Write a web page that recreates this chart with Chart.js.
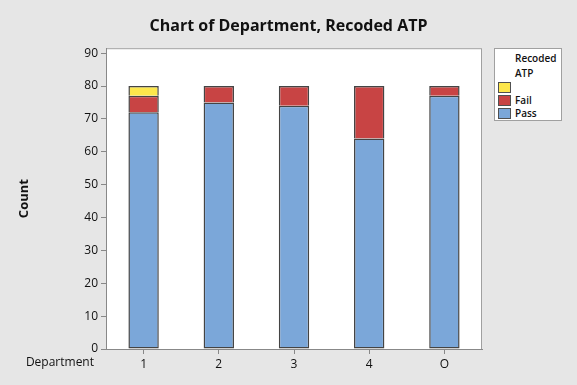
<!DOCTYPE html>
<html>
<head>
<meta charset="utf-8">
<script src="https://cdn.jsdelivr.net/npm/chart.js@4"></script>
<style>
  html, body { margin: 0; padding: 0; background: #e6e6e6; }
  #wrap { position: relative; width: 577px; height: 385px; }
  #legend {
    position: absolute; left: 494px; top: 48px; width: 66px; height: 71px;
    background: #fff; border: 1px solid #a0a0a0;
    font-family: 'Open Sans', sans-serif; font-size: 10px; font-weight: 600; color: #111;
  }
  #legend .t { position: absolute; left: 20px; line-height: 12px; }
  #legend .sw { position: absolute; left: 3px; width: 11px; height: 9px; border: 1px solid #505050; }
  #legend .lb { position: absolute; left: 20px; line-height: 12px; }
</style>
</head>
<body>
<div id="wrap">
  <canvas id="chart" width="577" height="385"></canvas>
  <div id="legend"></div>
</div>
<script>
// Data
const departments = ['1', '2', '3', '4', 'O'];
const passCounts = [72, 75, 74, 64, 77];
const failCounts = [5, 5, 6, 16, 3];
const blankCounts = [3, 0, 0, 0, 0];
const yTicks = [0, 10, 20, 30, 40, 50, 60, 70, 80, 90];

const colors = { pass: '#7ba7d9', fail: '#c84444', blank: '#fde74c' };
const FONT = "'Open Sans', sans-serif";

// Background + white plot frame, plus the "Department" label
const framePlugin = {
  id: 'frame',
  beforeDraw(chart) {
    const { ctx, chartArea: a } = chart;
    ctx.save();
    ctx.fillStyle = '#e6e6e6';
    ctx.fillRect(0, 0, chart.width, chart.height);
    ctx.fillStyle = '#fff';
    ctx.fillRect(a.left, a.top, a.right - a.left, a.bottom - a.top);
    ctx.strokeStyle = '#a0a0a0';
    ctx.lineWidth = 1;
    ctx.strokeRect(a.left + 0.5, a.top + 0.5, a.right - a.left - 1, a.bottom - a.top);
    ctx.restore();
  },
  afterDraw(chart) {
    const { ctx } = chart;
    const y = chart.scales.x.bottom - 22;
    ctx.save();
    ctx.font = '12px ' + FONT;
    ctx.fillStyle = '#111';
    ctx.textAlign = 'right';
    ctx.textBaseline = 'middle';
    ctx.fillText('Department', 94, y);
    ctx.restore();
  }
};

new Chart(document.getElementById('chart'), {
  type: 'bar',
  data: {
    labels: departments,
    datasets: [
      { label: 'Pass', data: passCounts, backgroundColor: colors.pass, borderSkipped: false },
      // upper segments skip their bottom edge so joins show one line
      { label: 'Fail', data: failCounts, backgroundColor: colors.fail, borderSkipped: 'bottom' },
      { label: '', data: blankCounts, backgroundColor: colors.blank, borderSkipped: 'bottom' },
    ].map(d => Object.assign(d, {
      borderColor: '#444',
      borderWidth: 1.5,
      categoryPercentage: 1,
      barPercentage: 0.404,
    }))
  },
  options: {
    responsive: false,
    devicePixelRatio: 1,
    animation: false,
    layout: { padding: 0 },
    plugins: {
      legend: { display: false },
      tooltip: { enabled: false },
      title: {
        display: true,
        text: 'Chart of Department, Recoded ATP',
        color: '#111',
        font: { family: FONT, size: 16, weight: 'bold' },
        padding: { top: 17, bottom: 12 },
      }
    },
    scales: {
      x: {
        stacked: true,
        afterFit: s => { s.height = 36; },
        grid: { display: true, drawOnChartArea: false, offset: false, tickLength: 5, color: '#888' },
        border: { display: true, color: '#888' },
        ticks: { color: '#111', padding: 3, font: { family: FONT, size: 12 } },
      },
      y: {
        stacked: true,
        min: 0,
        max: 91.5,
        afterFit: s => { s.width = 106; },
        afterBuildTicks: s => { s.ticks = yTicks.map(v => ({ value: v })); },
        title: {
          display: true,
          text: 'Count',
          color: '#111',
          font: { family: FONT, size: 13, weight: 'bold' },
          padding: { top: 16 },
        },
        grid: { display: true, drawOnChartArea: false, tickLength: 5, color: '#888' },
        border: { display: true, color: '#888' },
        ticks: { color: '#111', padding: 3, font: { family: FONT, size: 12 } },
      },
      // empty right-hand axis reserving room for the legend box
      side: {
        type: 'linear',
        position: 'right',
        afterFit: s => { s.width = 95; },
        grid: { display: false },
        border: { display: false },
        ticks: { display: false },
      }
    }
  },
  plugins: [framePlugin]
});

// Legend box (Minitab style)
const legendItems = [
  { label: '', color: colors.blank, top: 33 },
  { label: 'Fail', color: colors.fail, top: 46 },
  { label: 'Pass', color: colors.pass, top: 59 },
];
const lg = document.getElementById('legend');
lg.innerHTML = '<div class="t" style="top:3px">Recoded</div><div class="t" style="top:18px">ATP</div>' +
  legendItems.map(it =>
    `<div class="sw" style="top:${it.top}px;background:${it.color}"></div>` +
    `<div class="lb" style="top:${it.top - 1}px">${it.label}</div>`).join('');
</script>
</body>
</html>
